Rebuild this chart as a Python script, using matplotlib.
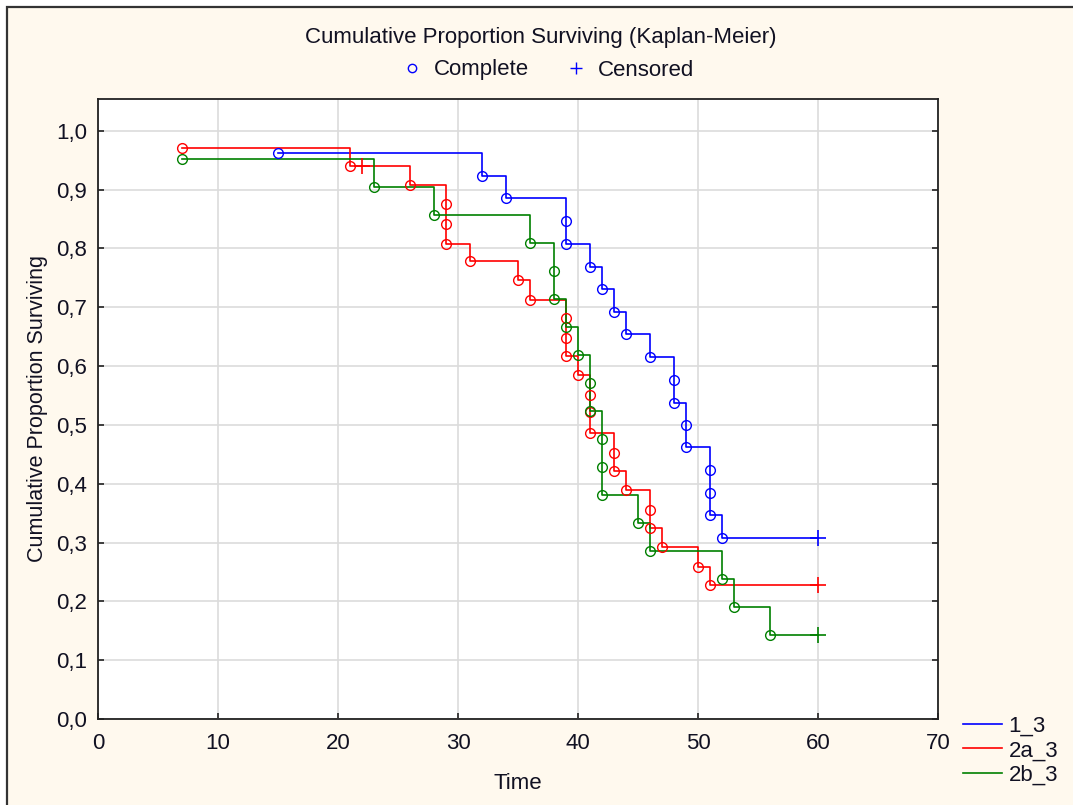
import matplotlib
matplotlib.use('Agg')
import matplotlib.pyplot as plt
from matplotlib.lines import Line2D
from matplotlib.patches import Rectangle
import numpy as np

plt.rcParams['font.family'] = ['Liberation Sans', 'DejaVu Sans']

# Kaplan-Meier Schaetzungen je Gruppe: Ereigniszeiten und Ueberlebensanteil danach
t_1_3 = [15, 32, 34, 39, 39, 41, 42, 43, 44, 46, 48, 48, 49, 49, 51, 51, 51, 52]
s_1_3 = [0.962, 0.923, 0.885, 0.846, 0.808, 0.769, 0.731, 0.692, 0.654, 0.615,
         0.577, 0.538, 0.500, 0.462, 0.423, 0.385, 0.346, 0.308]
c_1_3 = [60]

t_2a_3 = [7, 21, 26, 29, 29, 29, 31, 35, 36, 39, 39, 39, 40, 41, 41, 41, 43, 43,
          44, 46, 46, 47, 50, 51]
s_2a_3 = [0.970, 0.940, 0.907, 0.875, 0.842, 0.808, 0.778, 0.746, 0.712, 0.681,
          0.648, 0.617, 0.585, 0.551, 0.522, 0.486, 0.452, 0.422, 0.390, 0.356,
          0.325, 0.292, 0.258, 0.227]
c_2a_3 = [22, 60]

t_2b_3 = [7, 23, 28, 36, 38, 38, 39, 40, 41, 41, 42, 42, 42, 45, 46, 52, 53, 56]
s_2b_3 = [0.952, 0.905, 0.857, 0.810, 0.762, 0.714, 0.667, 0.619, 0.571, 0.524,
          0.476, 0.429, 0.381, 0.333, 0.286, 0.238, 0.190, 0.143]
c_2b_3 = [60]

groups = ['1_3', '2a_3', '2b_3']
colors = ['#0000ff', '#ff0000', '#008000']
x_ticks = [0, 10, 20, 30, 40, 50, 60, 70]
y_ticks = [0.0, 0.1, 0.2, 0.3, 0.4, 0.5, 0.6, 0.7, 0.8, 0.9, 1.0]

bg = '#fff9ee'
txt = '#111122'

fig = plt.figure(figsize=(10.73, 8.05), dpi=100, facecolor='white')
# Fensterrahmen
fig.add_artist(Rectangle((7 / 1073, -0.05), 1.1, 1.05 - 7 / 805,
                         transform=fig.transFigure, facecolor=bg,
                         edgecolor='#333333', lw=1.6, zorder=-10))

ax = fig.add_axes([98 / 1073, 1 - 719 / 805, 840 / 1073, 620 / 805])
ax.set_facecolor('white')

data = [(t_1_3, s_1_3, c_1_3), (t_2a_3, s_2a_3, c_2a_3), (t_2b_3, s_2b_3, c_2b_3)]
lines = []
for (t, s, c), col, name in zip(data, colors, groups):
    t = np.array(t, dtype=float)
    s = np.array(s)
    xs = np.append(t, max(c))
    ys = np.append(s, s[-1])
    ln, = ax.step(xs, ys, where='post', color=col, lw=1.2, label=name, zorder=3)
    lines.append(ln)
    ax.plot(t, s, 'o', ms=7, mfc='none', mec=col, mew=1.0, zorder=4)
    # zensierte Faelle auf der Stufenfunktion
    idx = np.searchsorted(t, c, side='right') - 1
    ax.plot(c, s[idx], '+', ms=11, color=col, mew=1.2, zorder=4)

ax.set_xlim(0, 70)
ax.set_ylim(0, 1.054)
ax.set_xticks(x_ticks)
ax.set_yticks(y_ticks)
ax.set_yticklabels([f'{v:.1f}'.replace('.', ',') for v in y_ticks])
ax.grid(True, color='#dcdcdc', lw=1.2)
ax.set_axisbelow(True)
ax.tick_params(direction='in', length=4, width=1.2, right=True, colors='#222222',
               labelsize=16, labelcolor=txt)
ax.tick_params(axis='x', pad=10)
ax.tick_params(axis='y', pad=8)
for sp in ax.spines.values():
    sp.set_linewidth(1.3)
    sp.set_color('#222222')

ax.set_xlabel('Time', fontsize=16, color=txt, labelpad=14)
ax.set_ylabel('Cumulative Proportion Surviving', fontsize=15.5, color=txt, labelpad=6)

fig.text(0.504, 1 - 38 / 805, 'Cumulative Proportion Surviving (Kaplan-Meier)',
         ha='center', va='center', fontsize=16, color=txt)

marker_handles = [Line2D([], [], ls='none', marker='o', ms=6, mfc='none', mec='#0000ff'),
                  Line2D([], [], ls='none', marker='+', ms=8, color='#0000ff')]
fig.legend(marker_handles, ['Complete', 'Censored'], loc='center',
           bbox_to_anchor=(0.51, 1 - 70 / 805), ncol=2, frameon=False,
           fontsize=16, handlelength=1.0, handletextpad=0.5, columnspacing=1.6,
           labelcolor=txt)

fig.legend(lines, groups, loc='upper left', bbox_to_anchor=(954 / 1073, 1 - 707 / 805),
           frameon=False, fontsize=16, handlelength=1.75, handletextpad=0.3,
           labelspacing=0.15, borderaxespad=0, labelcolor=txt)

fig.savefig('out.png', dpi=100, facecolor=fig.get_facecolor())
